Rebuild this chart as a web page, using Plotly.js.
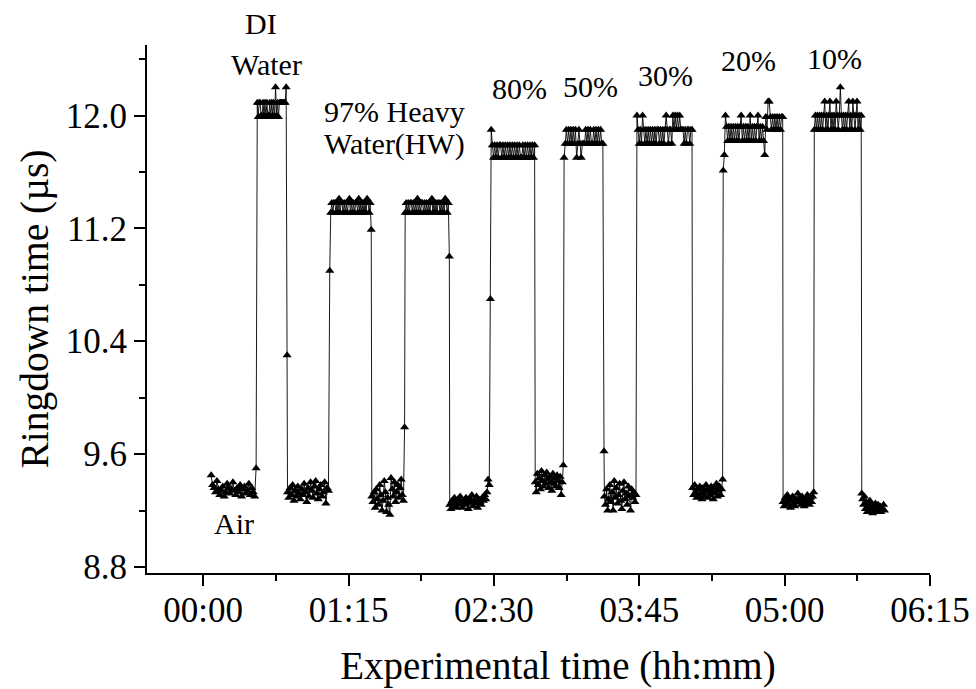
<!DOCTYPE html>
<html>
<head>
<meta charset="utf-8">
<script src="https://cdn.plot.ly/plotly-3.0.1.min.js"></script>
<style>
  html, body { margin: 0; padding: 0; background: #fff; }
  #chart { width: 976px; height: 689px; }
</style>
</head>
<body>
<div id="chart"></div>
<script>
// ---- Data (minutes since start, ringdown time in µs) ----
const segNames = ["Air", "DI Water", "Air", "HW 97%", "Air", "HW 97%", "Air", "80%", "Air",
                  "50%", "Air", "30%", "Air", "20%", "Air", "10%", "Air"];
const segStart = [4.1, 27.9, 43.5, 65.8, 87.0, 104.2, 127.2, 148.6, 171.3,
                  186.2, 207.0, 223.8, 252.5, 268.3, 299.2, 315.3, 339.8];
const segEnd   = [27.3, 43.3, 65.3, 86.7, 103.9, 127.0, 148.2, 171.0, 185.8,
                  206.8, 223.3, 252.2, 268.0, 299.0, 315.0, 339.5, 351.5];

const air1 = [9.45,9.38,9.36,9.33,9.41,9.35,9.31,9.34,9.37,9.30,9.33,9.39,9.36,9.32,9.35,9.40,9.34,9.31,9.36,9.33,9.38,9.30,9.35,9.37,9.32,9.34,9.39,9.31,9.36,9.33,9.30,9.50];
const diWater = [12.09,11.99,12.09,12.09,12.00,11.99,12.09,12.00,12.09,11.99,12.09,12.00,12.00,12.09,11.99,12.09,12.00,12.09,11.99,12.20,12.00,12.09,11.99,12.09,12.09,12.09,12.09,12.09,12.09,12.09,12.20,10.30];
const air2 = [9.33,9.29,9.36,9.31,9.38,9.27,9.34,9.30,9.37,9.32,9.28,9.35,9.31,9.39,9.33,9.26,9.36,9.30,9.40,9.34,9.29,9.37,9.41,9.32,9.28,9.35,9.38,9.30,9.33,9.40,9.25,9.36,9.34,10.90];
const hw1 = [11.31,11.38,11.31,11.38,11.38,11.31,11.38,11.31,11.41,11.31,11.38,11.38,11.31,11.38,11.31,11.38,11.31,11.38,11.41,11.31,11.38,11.31,11.38,11.31,11.38,11.38,11.31,11.41,11.31,11.38,11.31,11.38,11.31,11.38,11.31,11.41,11.38,11.31,11.38,11.19];
const air3 = [9.30,9.26,9.33,9.22,9.35,9.28,9.24,9.38,9.31,9.20,9.27,9.41,9.33,9.19,9.29,9.24,9.17,9.43,9.35,9.30,9.40,9.26,9.33,9.38,9.29,9.36,9.42,9.31,9.27,9.79];
const hw2 = [11.31,11.38,11.31,11.38,11.31,11.38,11.38,11.31,11.38,11.31,11.38,11.31,11.41,11.31,11.38,11.31,11.38,11.38,11.31,11.38,11.31,11.38,11.31,11.38,11.31,11.38,11.41,11.31,11.38,11.31,11.38,11.31,11.38,11.38,11.31,11.38,11.31,11.38,11.31,11.41,11.38,11.31,11.38,11.00];
const air4 = [9.24,9.21,9.27,9.23,9.29,9.25,9.22,9.28,9.24,9.30,9.26,9.22,9.27,9.24,9.29,9.25,9.21,9.28,9.26,9.31,9.23,9.27,9.25,9.30,9.22,9.28,9.26,9.24,9.29,9.27,9.31,9.28,9.33,9.42,9.38,10.70];
const hw80 = [11.90,11.79,11.70,11.79,11.70,11.79,11.70,11.79,11.79,11.70,11.79,11.70,11.79,11.70,11.79,11.70,11.79,11.70,11.79,11.70,11.79,11.70,11.79,11.70,11.79,11.70,11.70,11.79,11.70,11.79,11.70,11.79,11.70,11.79,11.70,11.79,11.70,11.79];
const air5 = [9.40,9.33,9.46,9.38,9.43,9.35,9.48,9.41,9.37,9.45,9.39,9.47,9.42,9.36,9.44,9.40,9.34,9.46,9.39,9.43,9.37,9.45,9.41,9.36,9.44,9.31,9.40,9.52];
const hw50 = [11.70,11.80,11.90,11.80,11.90,11.80,11.90,11.80,11.90,11.80,11.90,11.70,11.80,11.90,11.80,11.70,11.80,11.80,11.80,11.90,11.80,11.90,11.80,11.90,11.80,11.80,11.90,11.80,11.90,11.80,11.90,11.80,11.90,11.80,11.80,9.62];
const air6 = [9.30,9.24,9.35,9.20,9.28,9.38,9.26,9.33,9.20,9.41,9.29,9.36,9.25,9.31,9.39,9.27,9.21,9.34,9.40,9.28,9.32,9.24,9.37,9.30,9.20,9.35,9.29,9.33,9.26,9.31];
const hw30 = [12.00,11.90,11.80,11.90,11.80,12.00,11.90,11.80,11.90,11.80,11.90,11.80,11.90,11.80,11.90,11.80,11.90,11.80,11.90,11.90,11.80,11.90,11.80,11.90,11.80,11.90,12.00,11.90,11.80,11.90,11.90,11.80,12.00,11.90,12.00,11.90,12.00,11.90,12.00,11.90,11.90,11.90,11.80,11.90,11.80,11.90,11.90,11.80,11.90,11.90];
const air7 = [9.36,9.31,9.38,9.33,9.29,9.35,9.30,9.37,9.32,9.28,9.36,9.33,9.30,9.38,9.34,9.29,9.35,9.31,9.37,9.33,9.28,9.36,9.32,9.39,9.30,9.34,9.37,9.31,9.35,9.42];
const hw20 = [11.61,11.72,12.00,11.92,11.82,11.92,11.82,11.92,11.82,11.92,11.82,11.92,11.82,11.92,11.82,11.92,12.00,11.82,11.92,11.82,11.92,11.82,11.92,11.82,12.00,11.82,11.92,11.82,11.92,11.82,11.92,12.00,11.82,11.92,11.82,11.92,11.82,11.72,11.99,11.90,12.10,12.10,11.99,11.90,11.99,11.90,11.99,11.90,11.99,11.90,11.99,11.90,11.99,11.99];
const air8 = [9.26,9.23,9.29,9.25,9.31,9.24,9.28,9.22,9.27,9.30,9.25,9.23,9.28,9.26,9.32,9.27,9.29,9.24,9.30,9.26,9.23,9.28,9.25,9.31,9.27,9.24,9.29,9.26,9.30,9.33];
const hw10 = [11.90,12.00,11.90,12.00,11.90,12.00,11.90,12.00,11.90,12.00,12.10,11.90,12.00,11.90,12.00,12.10,11.90,12.00,11.90,12.00,11.90,12.10,12.00,11.90,12.00,12.20,12.00,11.90,12.00,11.90,12.00,11.90,12.00,12.10,11.90,12.00,11.90,12.10,12.00,11.90,12.00,12.10,11.90,12.00,11.90,12.00];
const air9 = [9.32,9.28,9.24,9.30,9.21,9.26,9.19,9.25,9.22,9.27,9.20,9.24,9.18,9.23,9.21,9.25,9.19,9.22,9.24,9.20,9.23,9.19,9.22,9.21,9.24,9.20];

const segValues = [air1, diWater, air2, hw1, air3, hw2, air4, hw80, air5, hw50, air6, hw30, air7, hw20, air8, hw10, air9];

const xTickVals = [0, 75, 150, 225, 300, 375];
const xTickText = ["00:00", "01:15", "02:30", "03:45", "05:00", "06:15"];
const xMinorVals = [37.5, 112.5, 187.5, 262.5, 337.5];
const yTickVals = [8.8, 9.6, 10.4, 11.2, 12.0];
const yTickText = ["8.8", "9.6", "10.4", "11.2", "12.0"];
const yMinorVals = [9.2, 10.0, 10.8, 11.6, 12.4];

// label x in minutes (data), y as fraction of plot height (paper)
const labelText = ["DI", "Water", "97% Heavy", "Water(HW)", "80%", "50%", "30%", "20%", "10%", "Air"];
const labelX = [30.0, 32.5, 98.5, 98.5, 163.0, 199.6, 238.3, 281.6, 325.5, 16.0];
const labelY = [1.040, 0.964, 0.875, 0.8125, 0.917, 0.922, 0.943, 0.970, 0.975, 0.093];

// ---- Build series (evenly sampled within each segment) ----
const xs = [], ys = [];
segValues.forEach((vals, i) => {
  const n = vals.length;
  const t0 = segStart[i], t1 = segEnd[i];
  vals.forEach((v, j) => {
    xs.push(t0 + (t1 - t0) * (n > 1 ? j / (n - 1) : 0));
    ys.push(v);
  });
});

const serif = "'Liberation Serif', 'Times New Roman', serif";

const trace = {
  x: xs, y: ys,
  type: "scatter",
  mode: "lines+markers",
  line: { color: "#000", width: 0.9 },
  marker: { symbol: "triangle-up", size: 8, color: "#000" },
  cliponaxis: false,
  hoverinfo: "x+y",
  showlegend: false
};

const annotations = labelText.map((t, i) => ({
  x: labelX[i], y: labelY[i], xref: "x", yref: "paper",
  text: t, showarrow: false,
  xanchor: "center", yanchor: "middle",
  font: { family: serif, size: 30, color: "#000" }
}));

const layout = {
  width: 976, height: 689,
  margin: { l: 147, r: 46, t: 45, b: 116 },
  paper_bgcolor: "#fff", plot_bgcolor: "#fff",
  font: { family: serif, color: "#000" },
  showlegend: false,
  xaxis: {
    range: [-29, 375],
    tickmode: "array", tickvals: xTickVals, ticktext: xTickText,
    ticks: "outside", ticklen: 11, tickwidth: 2, tickcolor: "#000",
    ticklabelstandoff: -6,
    minor: { tickmode: "array", tickvals: xMinorVals, ticks: "outside", ticklen: 6, tickwidth: 2, tickcolor: "#000", showgrid: false },
    showline: true, linecolor: "#000", linewidth: 2,
    showgrid: false, zeroline: false,
    tickfont: { family: serif, size: 35, color: "#000" },
    title: { text: "&nbsp;&nbsp;&nbsp;&nbsp;Experimental time (hh:mm)", font: { family: serif, size: 39, color: "#000" }, standoff: 23 }
  },
  yaxis: {
    range: [8.757, 12.5],
    tickmode: "array", tickvals: yTickVals, ticktext: yTickText,
    ticks: "outside", ticklen: 11, tickwidth: 2, tickcolor: "#000",
    minor: { tickmode: "array", tickvals: yMinorVals, ticks: "outside", ticklen: 6, tickwidth: 2, tickcolor: "#000", showgrid: false },
    showline: true, linecolor: "#000", linewidth: 2,
    showgrid: false, zeroline: false,
    tickfont: { family: serif, size: 35, color: "#000" },
    title: { text: "Ringdown time (µs)", font: { family: serif, size: 39.5, color: "#000" }, standoff: 5 }
  },
  annotations: annotations
};

Plotly.newPlot("chart", [trace], layout, { staticPlot: true, displayModeBar: false });
</script>
</body>
</html>
